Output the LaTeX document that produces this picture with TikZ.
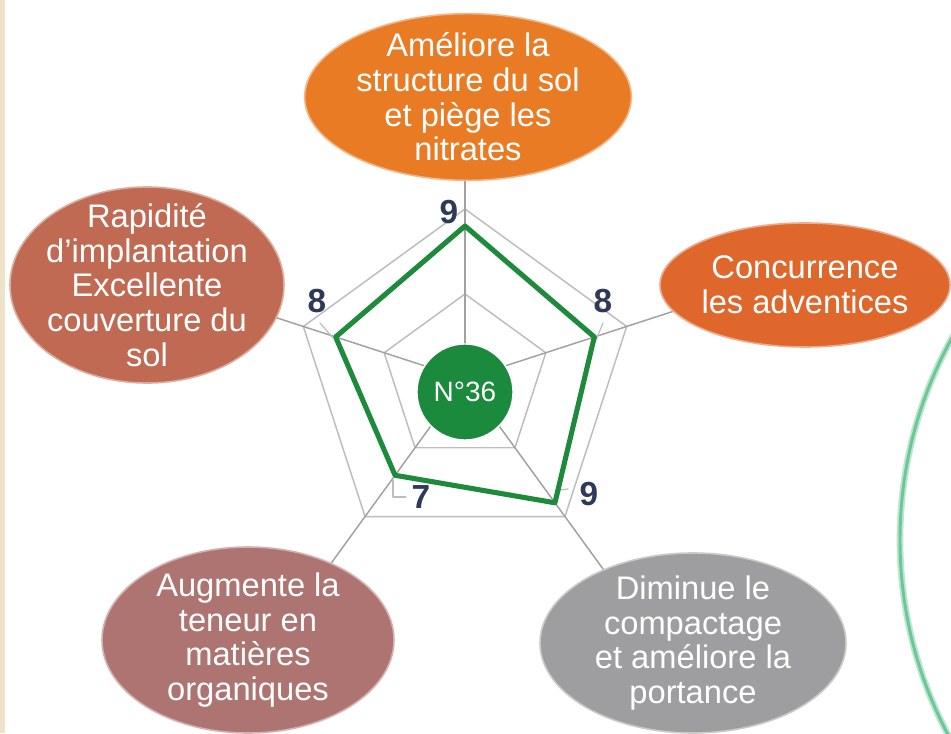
\documentclass[tikz,border=0pt]{standalone}
\usepackage{fontspec}
\setmainfont{Liberation Sans}
\usetikzlibrary{shapes.geometric,calc}
\definecolor{orangeA}{HTML}{E97B25}
\definecolor{orangeB}{HTML}{E0672C}
\definecolor{brique}{HTML}{C06A53}
\definecolor{vieuxrose}{HTML}{AD7472}
\definecolor{grisE}{HTML}{9E9EA0}
\definecolor{vertN}{HTML}{1B8A3D}
\definecolor{vertL}{HTML}{1E8B3C}
\definecolor{vertArc}{HTML}{6CC796}
\definecolor{encre}{HTML}{2E3A57}
\definecolor{grille}{HTML}{BDBDBD}
\definecolor{sable}{HTML}{EEE2CB}
\begin{document}
\begin{tikzpicture}[x=0.75pt, y=0.75pt, line join=round, line cap=round,
		bulle/.style={ellipse, inner sep=0pt, fill=#1, draw=#1!55!white, line width=1.2pt},
		texte/.style={text=white, align=center, font=\fontsize{24.5}{26}\selectfont},
		note/.style={text=encre, font=\fontsize{25}{25}\selectfont\bfseries},
		spoke/.style={grille!85!black, line width=1.1pt}]
		\def\R{17}
		\useasboundingbox (0,0) rectangle (951,733);
		\fill[white] (0,0) rectangle (951,733);
		\fill[sable] (0,0) rectangle (5,733);
		\begin{scope}
			\clip (0,0) rectangle (951,733);
			\draw[vertArc!45, line width=5pt] (1318,193) circle[radius=418];
			\draw[vertArc, line width=2.2pt] (1318,193) circle[radius=418];
		\end{scope}
		% radar grid
		\coordinate (C) at (465,354);
		\foreach \r in {5,10}
			\draw[grille, line width=1.1pt] ($(C)+(90:\r*\R)$) -- ($(C)+(18:\r*\R)$) -- ($(C)+(-54:\r*\R)$) -- ($(C)+(-126:\r*\R)$) -- ($(C)+(162:\r*\R)$) -- cycle;
		\foreach \a in {90,18,-54,-126,162}
			\draw[spoke] (C) -- ($(C)+(\a:260)$);
		% ellipses
		\node[bulle=orangeA, minimum width=245pt, minimum height=125pt] (amel) at (468,636) {};
		\node[bulle=brique, minimum width=205.5pt, minimum height=147pt] (rapid) at (147,448) {};
		\node[bulle=orangeB, minimum width=217.5pt, minimum height=93pt] (concu) at (805,448) {};
		\node[bulle=vieuxrose, minimum width=219pt, minimum height=139.5pt] (augm) at (248,93) {};
		\node[bulle=grisE, minimum width=229.5pt, minimum height=135pt] (dimin) at (693,90) {};
		\node[texte] (amel-t) at (amel) {Améliore la\\structure du sol\\et piège les\\nitrates};
		\node[texte] (rapid-t) at (rapid) {Rapidité\\d’implantation\\Excellente\\couverture du\\sol};
		\node[texte] (concu-t) at (concu) {Concurrence\\les adventices};
		\node[texte] (augm-t) at (augm) {Augmente la\\teneur en\\matières\\organiques};
		\node[texte] (dimin-t) at (dimin) {Diminue le\\compactage\\et améliore la\\portance};
		% data
		\foreach \a/\v [count=\i] in {90/9,18/8,-54/9,-126/7,162/8}
			\coordinate (p\i) at ($(C)+(\a:\v*\R)$);
		\draw[grille, line width=.9pt] (320,410)--(333,395);
		\draw[grille, line width=.9pt] (603,410)--(596,393);
		\draw[grille, line width=.9pt] (557,233)--(560,243)--(568,244);
		\draw[grille, line width=.9pt] (393,253)--(393,236)--(406,236);
		\draw[vertL, line width=3.8pt] (p1)--(p2)--(p3)--(p4)--(p5)--cycle;
		\node[circle, fill=vertN, draw=white, line width=1pt, minimum size=72pt, inner sep=0pt, text=white, font=\fontsize{21}{21}\selectfont] (num) at (465,341) {N°36};
		\node[note] (v1) at (449,521) {9};
		\node[note] (v2) at (603,432) {8};
		\node[note] (v3) at (589,239) {9};
		\node[note] (v4) at (421,236) {7};
		\node[note] (v5) at (317,432) {8};
\end{tikzpicture}
\end{document}
